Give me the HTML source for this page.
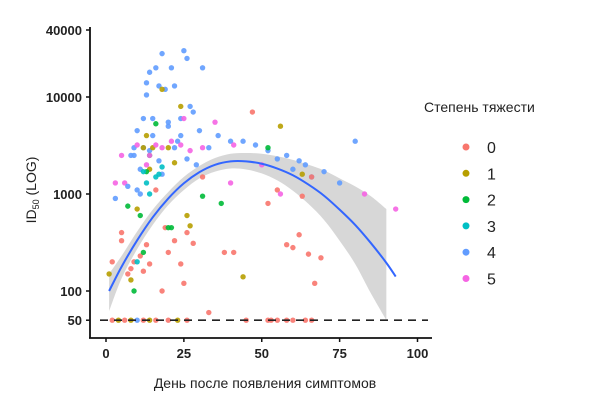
<!DOCTYPE html>
<html><head><meta charset="utf-8"><style>
body{margin:0;background:#fff}
svg{font-family:"Liberation Sans",Arial,sans-serif}
</style></head><body>
<svg id="c" width="600" height="400" viewBox="0 0 600 400">
<g id="band"></g>
<g id="pts"></g>
<g id="fit"></g>
<g id="axes"></g>
<g id="legend"></g>
</svg>
<script>
const xTicks=[0,25,50,75,100];
const yTicks=[50,100,1000,10000,40000];
const yTickLabels=["50","100","1000","10000","40000"];
const severityLabels=["0","1","2","3","4","5"];
const colors=["#F8766D","#B79F00","#00BA38","#00BFC4","#619CFF","#F564E3"];
const fitDays=[1,5,10,15,20,25,30,35,40,45,50,55,60,65,70,75,80,85,90,93];
const fitValues=[100,178,333,575,900,1290,1680,2000,2170,2170,2050,1830,1560,1250,960,690,480,313,195,141];
const bandDays=[1,5,10,15,20,25,30,35,40,45,50,55,60,65,70,75,80,85,90];
const bandUpper=[150,230,410,690,1050,1500,1950,2350,2600,2650,2600,2450,2250,2000,1750,1450,1200,950,700];
const bandLower=[62,135,270,480,770,1100,1450,1700,1830,1790,1630,1380,1080,790,540,330,190,95,50];
const pointDays=[1,2,3,5,6,7,8,9,10,11,12,13,14,15,16,17,18,19,20,21,22,23,24,25,26,27,28,30,31,
 9,10,11,12,13,14,15,17,18,20,22,24,26,29,33,36,40,44,48,52,55,58,60,62,64,66,70,75,80,
 5,7,8,9,11,12,13,14,16,18,19,20,22,24,25,26,28,31,33,38,41,47,52,55,58,60,62,63,65,66,67,69,
 8,10,12,13,14,15,18,20,22,24,26,27,44,56,63,
 7,9,11,12,13,14,16,20,21,31,37,52,
 10,12,13,14,16,17,18,
 3,5,10,13,14,16,18,21,24,25,27,31,35,40,41,50,56,83,93,
 2,4,6,8,10,12,14,16,20,23,26,45,52,53,55,58,60,64,66];
const pointValues=[150,200,900,330,1300,1200,2500,3000,4500,1000,6000,14000,18000,6000,20000,13000,28000,12000,5000,20000,13000,3500,6000,30000,25000,8000,7000,4500,20000,
 2500,1100,1800,3000,10500,2800,4000,2200,1600,5500,3000,4000,2300,2000,3000,4000,3500,3500,3200,2800,2300,2500,1800,2200,2000,1500,1700,1300,3500,
 400,150,170,200,230,160,300,190,1100,100,450,250,330,190,120,400,310,1500,60,250,250,7000,800,1100,300,280,380,950,240,1500,120,220,
 130,700,3000,4000,1800,3000,12000,3000,2100,8000,600,470,140,5000,1600,
 750,100,600,250,1700,2500,5300,450,450,950,800,3000,
 200,1700,1300,1000,1500,1600,1900,
 1300,2500,3200,2000,2500,3200,3000,3500,3200,6000,2800,3000,5500,1300,3200,2000,1000,1000,700,
 50,50,50,50,50,50,50,50,50,50,50,50,50,50,50,50,50,50,50];
const pointSeverity=[1,0,4,0,5,4,4,4,4,4,4,4,4,4,4,4,4,4,4,4,4,4,4,4,4,4,4,4,4,
 4,4,4,4,4,4,4,4,4,4,4,4,4,4,4,4,4,4,4,4,4,4,4,4,4,4,4,4,4,
 0,0,0,0,0,0,0,0,0,0,0,0,0,0,0,0,0,0,0,0,0,0,0,0,0,0,0,0,0,0,0,0,
 1,1,1,1,1,1,1,1,1,1,1,1,1,1,1,
 2,2,2,2,2,2,2,2,2,2,2,2,
 3,3,3,3,3,3,3,
 5,5,5,5,5,5,5,5,5,5,5,5,5,5,5,5,5,5,5,
 0,1,0,1,4,0,1,0,0,1,0,0,0,0,0,0,0,0,0];
const NS="http://www.w3.org/2000/svg";
function X(d){return 106+d*3.115}
function Y(v){return 97-(Math.log10(v)-4)*97}
function mk(t,a,p,txt){const e=document.createElementNS(NS,t);for(const k in a)e.setAttribute(k,a[k]);if(txt!=null)e.textContent=txt;document.getElementById(p).appendChild(e);return e}
function pts(xs,ys){return xs.map((x,i)=>[X(x),Y(ys[i])])}
function curve(p,move){let d=(move?"M":"L")+p[0][0]+","+p[0][1];
 for(let i=0;i<p.length-1;i++){const p0=p[Math.max(0,i-1)],p1=p[i],p2=p[i+1],p3=p[Math.min(p.length-1,i+2)];
  const c1=[p1[0]+(p2[0]-p0[0])/6,p1[1]+(p2[1]-p0[1])/6],c2=[p2[0]-(p3[0]-p1[0])/6,p2[1]-(p3[1]-p1[1])/6];
  d+=" C"+c1[0]+","+c1[1]+" "+c2[0]+","+c2[1]+" "+p2[0]+","+p2[1];}
 return d}
let bd=curve(pts(bandDays,bandUpper),true)+" "+curve(pts(bandDays,bandLower).reverse(),false)+"Z";
let b=mk("path",{d:bd,fill:"#d0d0d0","fill-opacity":0.85},"band");


let dl=mk("line",{x1:100,x2:428,y1:Y(50),y2:Y(50),stroke:"#222","stroke-width":1.6,"stroke-dasharray":"8,6"},"axes");


for(let i=0;i<pointDays.length;i++){
 const c=mk("circle",{cx:X(pointDays[i]),cy:Y(pointValues[i]),r:2.7,fill:colors[pointSeverity[i]],"fill-opacity":0.9},"pts");
 
 
}
let fl=mk("path",{d:curve(pts(fitDays,fitValues),true),fill:"none",stroke:"#3366FF","stroke-width":2},"fit");


let ya=mk("line",{x1:90,x2:90,y1:27,y2:338,stroke:"#111","stroke-width":1.8},"axes");


let xa=mk("line",{x1:89,x2:432,y1:338,y2:338,stroke:"#111","stroke-width":1.8},"axes");


xTicks.forEach(t=>{
 mk("line",{x1:X(t),x2:X(t),y1:338,y2:342,stroke:"#111","stroke-width":1.5},"axes");
 const l=mk("text",{x:X(t),y:358,"text-anchor":"middle","font-size":13,"font-weight":"bold",fill:"#222"},"axes",String(t));
 
 
});
yTicks.forEach((t,i)=>{
 const yy=i==4?30:Y(t);
 mk("line",{x1:86,x2:90,y1:yy,y2:yy,stroke:"#111","stroke-width":1.5},"axes");
 const l=mk("text",{x:82,y:yy+5,"text-anchor":"end","font-size":13,"font-weight":"bold",fill:"#222"},"axes",yTickLabels[i]);
 
 
});
let xt=mk("text",{x:265,y:388,"text-anchor":"middle","font-size":14,fill:"#222"},"axes","День после появления симптомов");


let yt=mk("text",{x:0,y:0,"text-anchor":"middle","font-size":14,fill:"#222",transform:"translate(36,190) rotate(-90)"},"axes");


yt.innerHTML='ID<tspan font-size="9" dy="3">50</tspan><tspan dy="-3"> (LOG)</tspan>';
let lt=mk("text",{x:424,y:112,"font-size":14,fill:"#222"},"legend","Степень тяжести");


severityLabels.forEach((s,i)=>{
 const yy=147+i*26.3;
 const d=mk("circle",{cx:466,cy:yy,r:3.5,fill:colors[i]},"legend");
 
 
 const t=mk("text",{x:487,y:yy+6,"font-size":16,fill:"#222"},"legend",s);
 
 
});
</script>
</body></html>
